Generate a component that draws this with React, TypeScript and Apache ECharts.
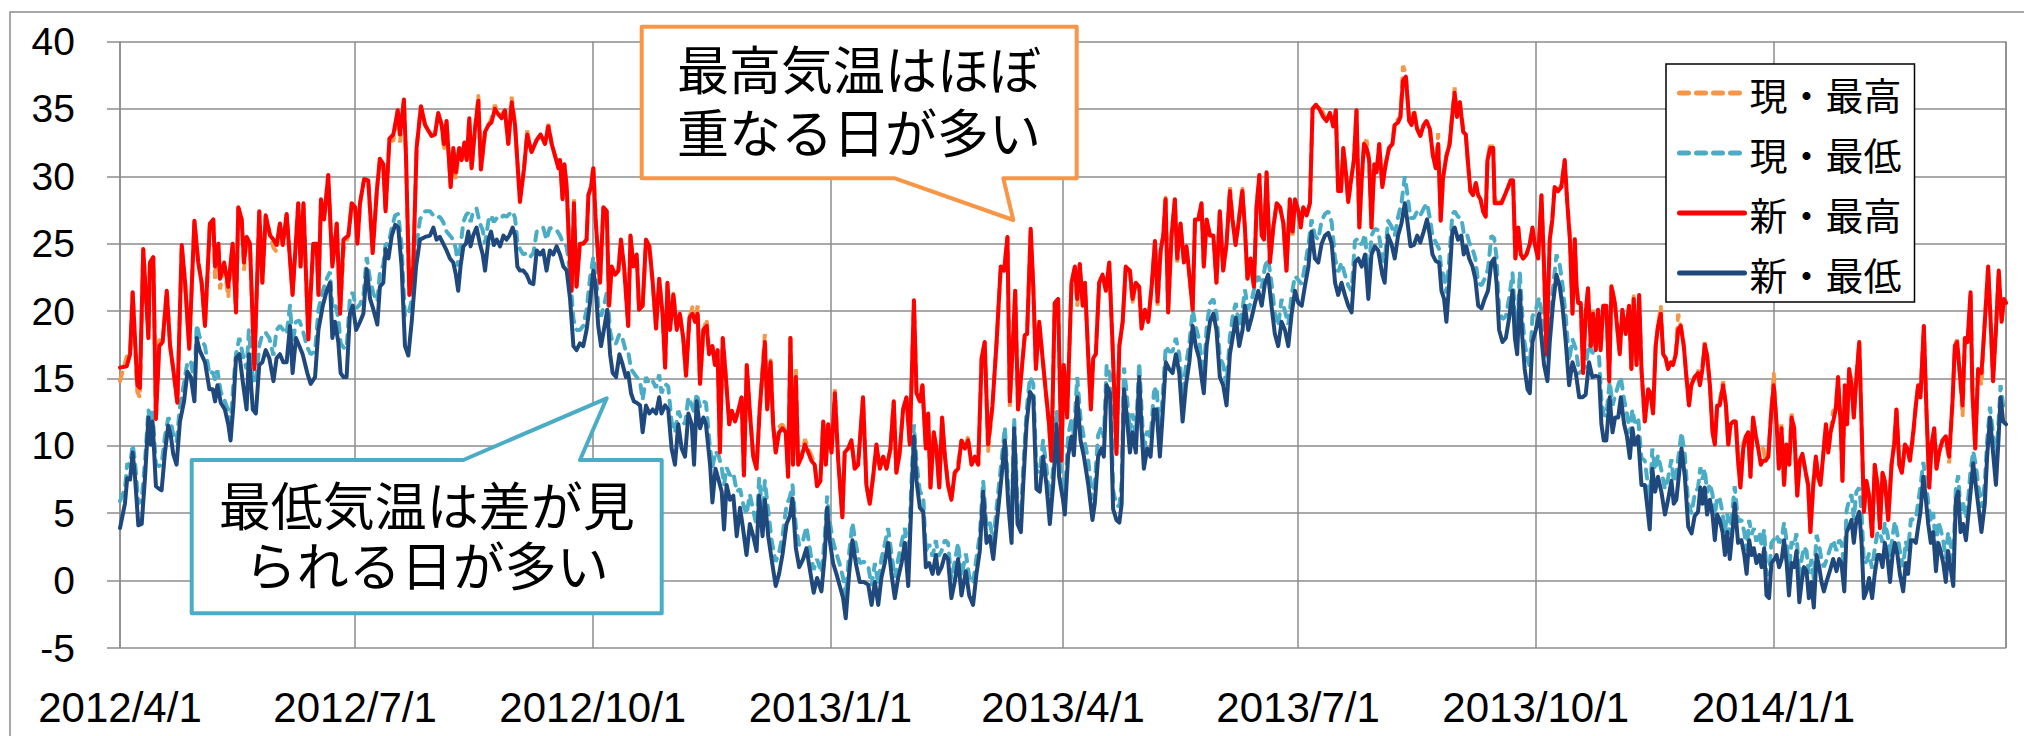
import React, { useEffect, useRef } from "react";
import * as echarts from "echarts";

// ---- data ----
const seriesNames = ["現・最高", "現・最低", "新・最高", "新・最低"];
const axisStart = [2012, 4, 1];
const axisEnd = [2014, 4, 1];
const yMin = -5;
const yMax = 40;
const yStep = 5;

// day offsets from 2012/4/1 for the max-temperature series
const hiDays = [
  0,2.6,3.9,4.9,6.7,7.7,9,11,11.6,12.9,13.9,15.2,16.5,18.1,19.4,20.6,22.2,23.9,25.2,26.8,
  28.8,30.3,31.6,32.9,34.8,36.1,36.8,38.1,38.7,40.3,41.9,43.6,44.9,45.8,47.1,48,49,50.3,52,53.9,
  55.1,56.4,58.1,59.4,60.6,61.9,63,64.5,66.8,69,69.9,71,72.9,74.8,76.1,76.8,77.8,79,80.6,82.2,
  83.9,85.2,86.5,88.4,89.7,91,91.9,92.9,94.5,96.1,97.8,99.4,100.6,101.9,102.8,104.3,105.8,107.5,108.4,109.9,
  110.7,112,113.5,114.8,116.5,118.1,
  119,120.6,121.9,123.2,124.5,125.4,126.4,128,129,130,131.3,132.2,133.3,134.2,135.2,136.1,137.4,138.7,139.7,141.3,
  142.6,143.8,145.1,146.4,147.7,149,150.3,151.6,152.9,154.8,156.4,157.6,159.3,161.3,162.8,164.5,165.8,167.1,168.4,169.7,
  170.3,171.3,172,172.9,173.8,174.8,175.7,176.7,178,179.3,180.6,181.3,182.3,183.2,184.1,184.9,185.8,187.1,188.4,189.3,
  190.3,191.6,192.9,193.9,195.1,196.7,197.6,198.7,200,200.9,202.3,203.6,204.9,206.2,207.5,208.7,210,211,211.9,212.9,
  214.2,215.5,216.7,218,219.1,220.4,221.6,222.6,223.6,224.5,225.8,227.1,228,229.3,230.3,231.3,232.2,233.3,234.5,235.8,
  236.8,238.1,239.4,240.6,241.5,242.6,243.8,
  245.1,246.4,247.6,249.6,250.5,251.8,252.8,253.8,255.1,256.4,257.7,258.6,259.5,260.5,261.6,262.5,263.8,265.1,266.4,267.6,
  268.9,269.8,271.1,272.2,273.2,274.1,275.4,276.7,278,279.6,280.5,281.8,283.1,284.4,285.7,287.6,288.9,290.2,291.5,292.8,
  294.1,295.4,296.7,298.2,299.5,300.5,301.8,303.1,304.4,305.7,307.3,308.3,309.6,310.6,311.9,312.8,313.7,315,316,317.1,
  318.2,319.3,320.5,321.8,323.1,324.4,325.7,327,328.3,329.6,330.9,332.2,333.5,334.7,336,337.7,339.3,340.9,342.2,343.5,
  344.4,345.4,346.5,347.6,348.9,350.2,351.1,352.5,353.5,354.5,355.8,357.1,358.4,359.6,360.5,361.8,363.1,364.4,
  365.3,366.6,368.3,369.6,370.5,371.5,372.6,373.5,374.8,375.8,376.7,377.7,379,380.3,381.6,382.9,384.2,385.7,386.8,388.1,
  389.3,390.9,391.9,393.2,394.5,395.4,396.7,398,399.3,400.6,401.6,402.8,403.8,404.7,405.7,407,408.3,409.2,410.5,411.8,
  412.8,413.9,415.2,416.1,417.4,418.6,419.5,420.6,421.9,423.2,424.4,425.7,427,428.3,429.6,430.6,431.8,433.1,434.4,435.4,
  436.4,437.6,438.9,439.9,441,441.9,442.8,443.8,445.1,446.4,447.7,449,450.3,451.5,452.8,453.9,454.8,456.1,457,458,
  459.3,460.6,461.6,462.9,464.2,465.7,467,468.3,469.6,470.6,471.5,472.6,473.5,474.5,475.4,476.7,477.6,478.6,479.7,480.6,
  481.5,482.5,483.5,484.4,485.5,486.4,487.4,
  488.6,489.9,491.2,492.5,493.4,494.7,495.6,496.6,497.7,499,499.9,500.9,502.1,503.3,504.6,505.7,507,508.2,509.3,510.2,
  511.2,512.1,513.4,514.7,515.7,516.6,517.5,518.6,519.9,520.9,521.8,522.7,523.7,524.8,525.7,526.6,527.6,528.6,529.3,530.4,
  531.5,532.1,533.4,534.7,536,537.3,538.3,539.2,540.1,541.2,542.2,543.1,544.4,545.7,546.7,547.6,548.9,550.2,551.2,552.1,
  553.4,554.4,555.3,556.6,557.9,559.2,560.2,561.2,562.2,563.1,563.7,564.4,565.4,566.3,567.3,568.2,569.3,570.2,571.2,572.1,
  573.1,574.1,575.3,576.4,577.3,578.6,579.6,580.5,581.5,582.8,584.1,585,585.9,587,588,588.9,590.2,591.5,592.4,593.4,
  594.4,595.3,596.4,597.3,598.3,599.2,600.3,601.1,602.2,603.1,604.1,605.3,606.3,607.3,608.2,609.5,610.8,
  611.5,612.5,613.4,614.3,615.4,616.4,617.3,618.2,619.2,620.5,621.6,622.5,623.4,624.4,625.4,626.3,627.2,628.3,629.3,630.2,
  631.1,632.1,633.2,634.1,635.1,636,637,638,639.2,640.1,641.2,642.1,643.1,644.1,645,646.1,647,648,649.2,650.2,
  651.2,652.5,653.4,654.3,655.4,656.4,657.3,658.2,659.2,660.3,661.2,662.1,663.1,664.1,665,666,666.7,667.6,668.5,669.3,
  670.2,671.1,672.1,673.2,674.1,675,676,677,678.2,679.2,680.3,681.2,682.2,683.1,684.4,685.7,686.7,687.6,688.7,689.7,
  690.9,691.8,692.8,694.1,695.1,696,696.9,698.2,699.2,700.3,701.2,702.2,703.1,704.1,705.4,706.7,708,709.3,710.2,711.1,
  712.1,713.2,714.1,715.1,716.3,717,718.1,719.2,720.5,721.8,723.1,724,725,726.1,727.2,728.3,729.2,730
];

// 新・最高
const newMax = [
  15.8,15.9,16.8,21.4,14.5,14.3,24.6,18,23.6,24,12,17.4,17.7,21.5,17.4,15.7,13.2,24.9,22.1,17.2,
  26.7,23.6,22.1,18.9,26.5,26.8,23.3,25,22.4,23.6,21.8,25,19.9,27.7,26.8,23.6,25.5,25,15.7,27.4,
  22.1,27.1,25.6,25.3,24.9,26.5,24.9,27.2,21.2,28,23.3,28,17.9,25,25,21.2,28.3,26.8,30.1,23.3,
  26.5,19.8,25.3,25.6,28,27.7,25,28,29.8,29.7,24.3,28.9,31.3,30.9,27.4,32.8,33.1,34.9,33.1,35.7,
  31.5,21.2,23.3,32.1,35.2,33.8,
  33.5,33,33.1,34.7,33.8,32.4,34.1,29.2,32.1,30.3,32.1,31.2,32.5,31.2,34.3,30.6,33.5,35.6,30.5,33.3,
  33.8,34,35,34.6,34.3,34.9,32.4,35.5,33.8,28.1,30.6,33.1,31.8,32.7,33.1,32.4,33.7,32.4,31.5,30.6,
  31.2,28.3,30.9,29.2,25,21.5,28,21.8,25,25,25.3,28.6,29.2,30.6,26.8,24.5,22.1,27.7,27.4,20.4,
  23.3,22.7,23,25.3,23.3,18.9,25.6,23.3,24.2,20.1,20.4,25.3,24.8,22.1,18.7,22.4,19.8,15.8,22.1,18.6,
  21.2,18.6,19.8,18,15.2,19.5,19.8,19.2,19.8,14.6,18.6,18.9,16.8,17.4,16,17.1,9.5,18,15.1,11.6,
  12.6,11.8,12.7,13.6,7.8,16,12.5,
  9.2,8.3,12.7,17.7,12.7,16.2,11.6,9.5,11,11.3,11,7.7,18,8.6,15.1,8.6,9.2,10.1,9.5,8.9,
  8.6,7,7.4,11.8,8.6,11.6,9.5,13.9,8.9,4.7,9.5,9.8,10.4,8.3,8.6,13.6,7.1,5.7,7.7,10.1,
  8.3,9.2,8.3,9.8,13.3,8,9.5,12.7,13.6,10.1,20.8,13.9,13.3,14.5,9.8,12.4,6.9,11,9.8,6.9,
  12.1,9.2,7.1,6,8,8.3,10.4,9.8,10.4,8.6,9.2,8.6,16.5,17.7,10.1,13,17.7,23.3,23,25.5,
  13.3,16.8,21.5,12.7,15.4,18.2,18.3,26.1,21.8,15.7,19.2,16.5,13.9,11.6,8.9,20.6,20.9,8.9,
  16,12.1,22.1,23.3,20.9,23.5,20.4,22.1,16.5,12.7,16.5,16.8,22.1,22.7,21.5,23.6,17.4,9.4,17.4,19.2,
  23.3,23,20.9,22.1,21.8,18.7,20.1,19.2,21.8,25.2,20.7,24.5,25.6,28.3,19.9,25.6,28.3,23.9,26.5,23.6,
  24.8,22.7,20.1,26.8,26.8,28,23.3,26.8,25.6,25.6,22.1,27.4,23,25,28.9,26.8,24.9,26.8,28.9,26.2,
  22.4,23.9,21.8,27.7,30.1,25.6,25.3,30.3,23.6,26.2,28,27.7,26.5,23,28.3,25.9,28.3,27.4,26.2,27.7,
  27.1,28,35,35.3,35,34.4,34.1,34.7,33.7,34.9,28.9,28.9,32.1,30.3,28.1,30,31.2,34.9,26.2,29.7,
  32.4,32.1,31.2,26.2,30.9,30.3,32.4,
  29.2,30.9,32.1,32.4,33.8,34,34.4,37.1,37.4,34.1,33.8,34.7,33.5,33,33.8,34.1,33.5,31.5,30.6,32.4,
  26.7,29.9,31.5,32.4,34.6,36.2,34.4,35.5,33.3,33.1,30.9,28.9,28.6,29.5,28.6,28.3,27.4,27,31.2,32.1,
  32.1,28,28,28,28.6,29.2,29.7,29.7,23.9,26.2,24.2,23.9,24.2,25,26.2,25,23.9,28.6,23.3,16.8,
  25.3,26.8,29.2,28.9,29.2,31.2,28,25.3,19.8,25.3,22.1,20.6,20.6,15.4,19.8,21.7,17.4,19.8,17.1,20.1,
  17.1,20.4,20.4,14.8,21.8,20.6,18.6,16.8,20.1,18.3,20.4,15.7,20.9,16,21.2,15.7,11.8,14.2,13.9,12.4,
  17.4,18.9,19.8,16.8,16.5,15.7,16.2,16,16.8,18.6,18.9,17.4,15.1,13,14.5,15.1,15.4,
  14.5,15.7,17.5,16.7,14.5,11,10.1,13,13,14.5,13,10.1,11.6,11.8,11.8,8.9,6.9,9.8,10.7,11,
  7.7,12.1,10.7,9.8,8.6,8.9,8.9,9.2,12.7,14.5,11.6,8.3,11.3,7.1,10.1,8.6,12.1,11.3,6.3,8.9,
  9.4,8,7.1,3.6,7.1,9.2,7.7,7.1,9.2,11.6,9.5,11,11.8,12.7,15.1,11.6,7.4,14.5,11.6,15.7,
  14.5,12.1,15.1,17.7,11.6,5.1,7.4,6.3,3.3,8.6,7.1,3.9,8,7.4,4.5,8.6,10.1,12.7,8.6,8,
  10.1,9.8,8.9,11,13,14.5,13.6,18.9,12.7,6.9,10.1,11.3,8.3,9.5,10.4,10.7,9.2,13.3,17.4,17.7,
  15.4,13,18,17.7,21.4,13.9,9.8,15.7,15.4,19.2,23.3,19.5,14.8,18.6,23,19.2,20.9,20.6
];

// 現・最高
const curMax = [
  14.8,16.6,16.8,21.4,14,13.6,24.6,18,23.6,24,12,17.9,17.7,21.5,17.4,15.7,13.2,24.9,22.1,17.2,
  26.7,23.6,22.1,18.9,26.5,26.8,22.4,25,21.6,23.6,21,25,19.9,27.7,26.8,23,25.5,25,15.7,27.4,
  22.1,27.1,25.6,24.7,24.4,26.5,24.9,27.2,21.2,28,23.3,28,17.9,25,25,21.2,28.3,26.8,30.1,23.3,
  26.5,19.8,24.5,25.6,28,27.7,25,28,29.8,29.7,24.3,28.9,31.3,30.9,27.4,32.8,32.6,34.9,32.5,35.7,
  31.5,21.2,23.3,32.1,35.2,33.8,
  33.5,33,33.1,34.7,33.8,31.9,34.1,29.2,32.1,29.8,32.1,31.2,32.5,31.2,34.3,30.6,33.5,36,30.5,33.3,
  33.8,34.3,35.3,34.6,34.6,34.9,32.4,35.9,33.8,28.4,30.6,33.4,31.8,32.7,33.1,32.4,33.9,32.4,31.5,30.6,
  31.5,28.3,30.9,29.2,25,21.5,28.3,21.8,25,25,25.3,28.6,29.2,30.8,26.8,24.5,22.1,27.7,27.4,20.4,
  23.3,22.7,23,25.3,23.3,18.9,25.6,23.5,24.2,20.1,20.4,25.3,24.8,22.1,18.7,22.4,19.8,15.8,22.1,18.6,
  21.4,18.6,19.8,18,15.2,19.5,20.3,19.2,20.4,14.6,18.6,19.4,16.8,17.4,16,17.1,9.5,18,15.1,11.6,
  12.6,11.8,12.7,13.6,7.8,16,12.5,
  9.2,8.3,12.7,18.3,12.7,16.5,11.6,9.5,11.4,11.6,11,7.7,18.3,8.6,15.7,8.6,9.2,10.5,9.8,9.3,
  8.6,7,7.4,11.8,8.6,11.6,9.5,14.2,8.9,4.7,9.5,9.8,10.4,8.3,8.6,13.6,7.1,5.7,7.7,10.1,
  8.3,9.2,8.3,9.8,13.3,8,9.5,12.7,13.6,10.1,20.8,13.9,13.3,14.5,9.8,12.4,6.9,11,9.8,6.9,
  12.1,9.2,7.1,6,8,8.7,10.4,9.8,10.7,8.6,9.2,8.6,16.5,17.7,9.6,13,17.7,23.3,23,25.5,
  12.9,16.8,21.5,12.7,15.4,18.2,18.3,26.1,21.8,15.7,19.2,16.5,13.9,11.6,8.9,20.6,20.9,8.9,
  16,12.1,22.1,23.3,20.4,23.5,20.4,22.1,16.5,12.7,16.5,16.8,22.1,22.7,21.5,23.6,17.4,9.4,17.4,19.2,
  23.3,23,20.6,22.1,21.5,18.7,20.1,19.2,21.8,25.2,20.4,24.5,25.6,28.6,19.9,25.6,28.3,23.6,26.5,23.6,
  24.8,22.7,20.1,26.8,26.8,28,23.3,26.8,25.6,25.6,22.1,27.4,23,25,29.2,26.8,24.9,26.8,29.2,26.2,
  22.4,23.6,21.8,27.7,30.1,25.6,25.3,30.3,23.6,26.2,28,27.7,26.5,23,28.3,25.6,28.3,27.4,26.2,27.7,
  27.1,28,35,35.3,35.3,34.7,34.1,34.7,33.7,34.9,28.9,28.9,32.1,30.3,28.1,30,31.2,34.9,26.2,29.7,
  32.4,32.7,31.2,26.2,30.9,30.3,32.4,
  29.2,30.9,32.1,32.4,34.1,34.2,34.4,38.2,37.6,34.1,33.8,35,33.5,33,33.8,34.1,33.5,31.5,30.6,33.2,
  26.7,29.9,31.5,32.7,34.6,36.6,34.4,35.5,33.6,33.1,30.9,28.9,28.6,29.5,28.6,28.3,27.4,27,31.2,32.5,
  32.1,28,28.4,28,28.6,29.2,29.7,29.7,23.9,26.2,24.2,23.9,24.2,25,26.2,25,23.9,28.6,23.3,16.8,
  25.3,26.8,29.3,28.9,29.4,31.2,28,25.6,19.8,25.6,22.1,20.6,20.6,15.4,19.8,21.7,17.4,20.1,17.1,20.1,
  17.1,20.4,20.4,14.8,22,20.6,18.6,16.8,20.1,18.3,20.4,15.7,21.1,16,21.2,15.7,11.8,14.2,13.9,12.4,
  17.4,18.9,20.4,16.8,16.5,15.7,16.2,16,17,19.8,18.9,17.4,15.1,13,14.5,15.1,15.6,
  14.5,15.9,17.7,16.7,14.5,11,10.1,13,13.3,14.8,13,10.1,11.6,11.8,11.8,8.9,6.9,10.2,10.7,11,
  7.7,12.1,10.7,9.8,9.8,9.8,8.9,9.2,12.7,15.4,11.6,8.3,11.6,7.1,10.1,8.6,12.4,11.3,6.3,8.9,
  9.4,8,7.1,3.6,7.1,9.2,7.7,7.1,9.2,11.6,9.5,11,12.6,12.7,15.1,11.6,7.4,14.5,11.6,15.7,
  14.8,12.1,15.1,17.7,11.6,5.1,7.4,6.3,3.3,8.6,7.1,3.9,8,7.4,4.5,8.6,10.1,12.9,8.6,8,
  10.1,9.8,8.9,10.6,13,14.5,14,18.9,12.7,6.9,10.1,11.3,8.3,9.5,10.4,10.7,8.7,13.3,17.4,17.9,
  15.4,12.2,18,17.7,21.4,13.9,9.8,15.7,14.5,19.2,23.3,19.5,14.8,18.6,23,19.2,20.9,20.6
];

// day offsets from 2012/4/1 for the min-temperature series
const loDays = [
  0,1.9,2.8,3.9,4.9,5.8,7.1,8.4,9.7,11,11.9,12.6,13.9,15.2,16.1,17.4,18.7,19.7,20.6,21.9,
  23.2,24.8,26.1,27.4,28.8,29.7,30.8,32.9,34.6,35.9,36.8,37.7,39,40.6,41.9,42.8,43.9,44.9,46.2,47.7,
  49,49.9,51.4,52.6,53.9,55.1,56.4,57.8,59.4,60.6,61.9,63.2,64.5,65.8,66.8,68.1,69.4,70.7,72.5,73.8,
  75.5,76.8,78.5,80,81.3,82.2,83.2,84.5,85.4,86.5,87.7,89,90.1,91.4,92.9,94.2,95.5,96.8,98.1,99.6,
  100.6,101.9,102.8,103.9,105.2,106.5,107.7,109,110.3,111.6,112.9,114.6,116.1,118.1,
  120,121.3,122.5,123.8,125.1,126.4,127.7,129,130,130.9,131.8,132.9,133.9,134.8,135.7,136.7,138,139.3,140.4,141.3,
  142.6,143.6,144.7,145.8,147.1,148.4,149.6,150.7,152,152.9,153.8,154.8,156.1,157.4,158.7,160,161.3,162.6,163.8,165.1,
  166.4,167.7,169,170.3,171.6,172.9,174.2,175.5,176.7,178,179.3,180.6,181.9,183.2,184.1,185.1,186.2,187.3,188.6,189.7,
  190.7,192,193.3,194.6,195.8,196.7,197.8,198.9,200,201.3,202.3,203.6,204.9,206.2,207.5,208.7,209.6,211,212.2,213.5,
  214.8,216.1,217.4,218.7,220,221.3,222.2,223.2,224.5,225.8,226.8,228.4,229.3,230.5,231.8,232.9,233.8,234.8,236.1,237.4,
  238.7,240,241.2,242.5,
  243.8,245.1,246.4,247.4,248.7,249.6,250.9,252.2,253.8,255.1,256.4,258,259.3,260.3,261.6,262.9,264.4,265.7,267.3,268.5,
  269.8,271.5,272.8,273.7,274.7,276,277.3,278.6,279.9,280.9,282.2,283.5,284.8,286.3,287.9,289.6,290.9,292.2,293.5,294.7,
  296,297.3,298.6,299.9,301.2,302.5,303.8,305.1,306.3,307.3,308.3,309.6,310.9,311.9,313.2,314.5,315.8,316.7,318,319.3,
  320.5,321.8,323.1,324.4,325.7,327.4,328.7,330.2,331.5,332.8,334.1,335.4,336.7,338,339.5,341.2,342.5,343.8,345.1,346.1,
  347.4,348.7,349.6,350.9,352.2,353.5,354.7,356,357.3,358.6,359.9,361.2,362.5,363.5,365,365.7,
  367,368.3,369.2,370.5,371.8,373.1,374.8,376.4,377.3,378.6,379.9,380.8,381.9,383.2,384.4,385.7,386.8,387.7,388.6,389.6,
  390.9,391.9,393.2,394.5,395.4,396.3,397.6,398.9,400.2,401.2,402.5,403.5,404.8,406.1,407.4,408.7,410,411.3,412.6,413.9,
  415.2,416.4,417.7,418.6,419.5,420.6,421.9,423.2,424.4,425.7,427,428.3,429.6,430.9,431.9,433.2,434.5,435.4,436.7,438,
  439.3,440.6,441.9,443.2,444.4,445.7,447,448.3,449.6,450.9,452.2,453.5,454.8,456.1,457.4,458.6,460,461.2,462.5,463.8,
  465.1,466.4,467.7,469,470.3,471.5,472.8,474.1,475.4,476.7,478,479.3,480.6,481.9,483.2,484.4,485.7,487,
  488.6,489.5,490.8,492.1,493.4,494.7,496,497.3,498.2,499.5,500.8,502.1,503.3,504.6,505.9,507,508,509.3,510.6,511.5,
  512.5,513.4,514.4,515.7,516.6,517.9,519.2,520.1,521.1,522.2,523.5,524.6,525.7,527,528.2,529.5,530.8,531.9,532.8,533.8,
  535.1,536.4,537.7,539,539.9,540.8,541.8,542.8,543.7,544.8,545.7,546.7,548,549.3,550.2,551.2,552.5,553.4,554.7,556,
  557.3,558.3,559.6,560.9,562.2,563.5,564.8,566.1,567.3,568.6,569.9,571.2,572.5,573.4,574.3,575.3,576.6,577.7,578.7,579.9,
  580.9,582.2,583.3,584.4,585.4,586.3,587.6,588.9,590.2,591.2,592.1,593.1,594.2,595.3,596.6,598,599.2,600.5,601.4,602.4,
  603.5,604.4,605.7,607,608.3,609.5,610.8,
  611.7,612.5,613.4,614.3,615.4,616.4,617.3,618.2,619.2,620.3,621.2,622.1,623.1,624.1,625,626.3,627.6,628.7,629.6,630.6,
  631.5,632.4,633.4,634.5,635.4,636.4,637.3,638.3,639.2,640.4,641.2,642.2,643.2,644.1,645.1,646,647,648,648.9,650,
  650.9,651.8,652.8,653.7,654.7,655.6,656.7,657.7,658.6,659.5,660.5,661.8,663.1,664.4,665.4,666.3,667.4,668.3,669.3,670.2,
  671.1,672.1,673.2,674.1,675,676,677,678.2,679.2,680.3,681.2,682.2,683.1,684.2,685.1,686.1,687,688,688.9,690.2,
  691.2,692.1,693.2,694.1,695.1,696,696.9,698,699,699.9,700.9,701.8,702.9,703.8,704.7,705.7,706.7,707.6,708.5,709.6,
  710.6,711.5,712.4,713.4,714.5,715.4,716.3,717.3,718.3,719.2,720.5,721.8,722.7,723.8,724.8,726.1,727,727.9,728.9,730
];

// 新・最低
const newMin = [
  3.9,5.7,7.6,7.5,9.5,7.7,4.1,4.2,7.7,12.1,10.1,11.8,7,6.8,6.7,9.5,11.5,10.7,9.4,8.6,
  11.8,13.3,15.5,15.1,13.3,18,17.1,16.2,14.2,14.2,13.3,14.5,13.2,12.7,11.6,10.4,13,16.5,16.8,14.5,
  12.7,16.8,12.7,12.4,16,16.2,17.1,16.5,14.8,16.5,16.8,16.2,16.2,18.9,15.4,18,17.4,16.8,15.4,14.6,
  15.1,18.6,20.4,21.5,22.1,18,19.2,17.7,15.4,15.1,15.1,19.8,20.4,18.6,19.2,19.8,23.1,20.9,20.1,19,
  21.8,22.1,24.6,23.9,25.6,26.4,26.2,23.3,17.4,16.7,19.2,23.3,25.3,25.5,
  25.6,26.2,25.3,25.5,25,24.5,23.9,23.6,22.7,21.5,23.3,24.8,25,25.9,24.8,25.6,26.2,25,24.2,23,
  25.3,25.9,24.9,25.3,24.8,25.6,25.3,25.6,26.2,25.6,23.3,23,23,22.7,22.1,22,24.5,24.2,24.5,23,
  24.5,24.2,24.8,24.2,23.3,23,20.9,17.4,17.1,17.6,17.4,18.6,20.6,23,21.8,18.9,17.4,18.6,20.1,16.8,
  15.4,15.1,16.8,16,15.1,15.4,13.9,13.3,13.2,13,11,13,12.4,12.7,12.4,13.6,12.4,13,12.7,9.8,
  8.6,11.6,9.8,9.2,12.4,11.6,8.6,13.3,11.3,12.1,11.6,8.6,5.8,8.3,7.4,6.6,3.8,7.1,6,6.3,
  3.3,5.4,3.8,1.9,
  4.2,3.3,2.2,6.3,3.3,6,3.3,1.6,-0.4,0.5,1.9,4.2,4.8,6.1,2.4,1,1.6,2.4,0.5,-0.9,
  0.2,-0.8,1.9,5.4,3,1.3,0.5,-0.4,-1.3,-2.8,0.5,3,1.3,-0.1,-0.1,-0.3,-1.8,-0.1,-1.8,0.2,
  1.3,2.8,0.5,-1.3,0.2,1.3,2.8,-0.4,5.7,10.7,7.4,5.4,5.1,1,1.3,0.5,1.9,0.5,1,1.9,
  1.6,-1.3,-0.1,1.6,-1.1,0.7,-1.1,-1.8,0.5,2.2,6.6,2.8,3.3,1.6,4.5,7.7,10.4,5.7,2.8,11.3,
  4.2,3.6,7.1,11.6,14,13.6,6.8,6.6,9.2,7.1,4.2,7.1,11.6,7.7,6,4.9,
  9.3,10.7,9.3,13.6,10.4,9.2,7.1,4.5,5.7,9.2,9.8,9.2,14.5,13.9,5.3,4.5,4.3,5.7,14.2,12.4,
  9.5,11,9.5,15.1,11.3,8.3,9.8,9.2,12.7,12.7,9.2,12.1,16.2,15.7,15.4,16.8,15.4,11.8,14.5,16.2,
  18.9,17.4,16.5,15.1,13.9,17.4,19.2,19.8,18.6,15.1,14.5,13,16.8,18.3,19.5,17.4,18.6,20.4,18.6,19.5,
  20.6,21.5,20.4,22.1,22.7,20.4,18.3,17.4,19.2,18.6,17.4,19.8,21.5,20.6,20.4,21.8,23.3,25.9,23.9,23.6,
  25,25.6,25.8,25,22.1,21.2,22.1,21.2,20.4,19.9,23.6,23.9,23.3,24.2,20.9,24.2,24.8,24.5,
  22.7,22.1,25.6,25,23.9,25.6,26.5,28,26.8,24.8,24.9,25.6,25.1,25.9,26.8,25.6,24.2,23.7,23.6,21.5,
  20.9,19.2,21.8,25.9,26.2,25.3,25.6,24.2,24.8,23.9,23.3,22.4,20.4,20.2,20.9,21.5,23.6,23.9,22.1,18.6,
  17.7,18,19.5,21.5,18,16.8,21.5,18,15.7,14.2,13.9,17.7,18.6,19.8,18,16,14.8,17.7,20.6,22.7,
  21.8,20.4,17.7,14.5,16.2,15.4,13.6,13.6,13.8,16.2,15.1,15.2,15.1,11.6,10.4,10.4,13.6,11,12.1,12.1,
  13.6,11.6,10.7,9.1,11.3,10.1,10.7,7.1,7.1,5.4,3.8,8.3,6.6,7.7,6.6,4.9,6,7.4,5.7,6,
  8,9.8,7.7,4,3.5,4.8,5.1,
  6.9,5.7,6.9,4.9,6,4.9,3,4.9,4.5,3.6,1.9,3.6,1.6,3.6,5.7,2.8,3,1.9,0.5,3,
  1.9,2.4,1.3,1.9,1,2.4,-1.1,-1.3,1.3,1.6,1.9,1,1.6,3,1.3,-1.1,1.3,1,2.2,-1.6,
  -0.1,1,0.7,-1.3,-0.1,-2,1.9,1,-0.1,-0.8,-0.1,0.7,1.6,0.7,1.6,1.3,-0.8,3.6,4,4.5,
  2.8,4.5,5.1,2.8,-1.3,-0.8,0.2,-1.3,0.5,1.9,1.9,1,2.8,1.6,-0.1,1.9,2.8,1.9,0.5,-0.8,
  1.3,0.5,3,3,2.8,4,5.1,7.7,6,4.2,2.8,3.6,0.7,2.8,2.2,1.3,-0.1,2.2,1,-0.4,
  6,6.6,3.6,4.2,3,4.8,6.6,8.7,7.1,5.7,3.6,5.7,9.2,12.1,9.9,7.1,10.1,13.6,11.8,11.6
];

// 現・最低
const curMin = [
  5.9,6.8,8.7,8.5,10.1,8.9,5.7,6,8.9,12.7,11.3,12.6,8.6,8.5,8.6,10.7,12.1,11.8,10.8,10.3,
  12.9,14.7,16.2,16.3,14.6,19,18.1,17.4,15.3,15.5,14.9,15.6,14,13.3,12.6,11.7,14.6,16.8,18,16.6,
  15.7,18.6,14.9,14.6,17.4,18.3,18.4,18,16.7,18.6,18.9,18.6,18.3,20.4,17.6,19.2,19.3,18.6,17.3,16.8,
  17,20.1,21.5,22.4,22.9,20.3,20.6,19.5,17.6,17.3,17.2,21,21.4,20.2,20.5,21.1,24,22.3,21.3,20.7,
  22.9,23.4,25,24.9,26.2,27.1,27.2,24.8,19.6,19.8,20.8,24.6,26.8,27.4,
  27.4,27.1,26.9,27,26.6,25.9,25.6,25.3,24.6,23.3,24.8,26.6,27.1,27.3,26.6,27.4,27.6,26.5,26,25,
  26.7,27.1,26.6,26.9,26.8,27.1,27,27.2,27.4,26.9,25.2,24.6,24.2,24.3,24,24.3,25.9,26,26.2,25.3,
  26.2,26,26,25.6,25,24.8,22.7,19.4,18.6,18.6,18.9,20.1,22.4,24,23.2,20.4,19.6,20.4,21.5,18.5,
  17.6,17.6,18.3,17.9,17,17,15.7,15.4,15.1,14.8,13.4,15.1,14.6,14.8,14.3,15.3,13.9,14.6,14.4,11.8,
  11,12.6,11.9,11.6,13.6,13,12.5,13.9,12.9,13.3,13.2,9.8,8.4,9.6,9.2,8.4,7.1,8.4,7.8,8,
  6.6,6.8,5.7,4.9,
  6.4,5.2,4.1,7.6,5,7.4,5.2,3,1.4,2.1,3.3,5.6,6.2,7.1,4,2.6,3,4,2,0.8,
  1.6,0.6,3.2,6.3,4.4,2.9,2,1.2,0.2,-1.2,2,4.3,2.7,1.3,1.4,1.1,-0.4,1.3,-0.3,1.6,
  2.7,3.9,2,0.2,1.6,2.8,3.9,1.2,7.1,11.6,8.8,6.6,6.3,2.2,2.7,1.8,3,1.8,2.2,3,
  2.8,0.1,1.4,2.8,0.3,2,0.3,-0.2,1.7,3.4,7.4,4,4.3,2.9,5.8,8.9,11.4,6.9,4.2,12.1,
  5.5,4.8,8.3,12.6,15.1,14.6,8.2,8,10.4,8.4,5.6,8.4,12.6,9,7.3,6.2,
  10.8,12,10.8,15.1,12,10.6,8.9,6,7.2,10.8,11.4,10.6,16,15.3,6.7,5.6,5.5,7.3,15.8,14,
  11,12.4,10.8,16.2,12.8,9.6,11.1,10.6,14,14.4,10.8,13.6,17.4,17,17,18,16.8,13.6,16,17.6,
  20.1,18.8,17.9,16.4,15.3,18.8,20.6,20.9,19.8,16.6,16,14.5,18.1,19.9,20.6,18.8,20.1,21.6,20.1,20.8,
  21.9,22.6,21.7,23.3,23.9,22.1,19.8,18.9,20.9,20,19,21.2,22.6,22.3,22,23.3,24.9,26.8,25.6,25.3,
  26.7,27.2,27.4,26.6,23.9,22.9,23.6,22.7,21.9,21.5,25.2,25.4,24.9,25.7,22.4,25.6,26.1,26,
  24,23.6,26.7,26.3,25.6,27,28,30,28.8,26.9,26.9,27.4,27.1,27.6,28,26.9,25.6,25.1,24.6,23,
  22.6,21.3,23.6,27.2,27.4,27,26.9,25.8,25.9,25.1,24.6,23.9,22.1,21.9,22.4,23.1,25.6,25.4,24,20.1,
  19.4,19.6,21,22.8,19.8,18.5,22.9,19.6,17.6,16.4,15.9,19.6,20.1,21,20,17.9,16.5,19.6,21.8,24.2,
  23.4,22,19.6,16.3,17.9,17.2,15.4,15.6,15.9,17.6,16.9,16.9,16.6,13.4,12.3,12.2,14.8,13,13.7,14.5,
  15.1,13.4,12.4,10.9,12.7,11.7,12.1,9.1,8.9,7.4,5.6,9.8,8.2,9.3,8.2,6.8,7.6,9,7.3,8,
  9.6,11,9.3,5.7,5,6.4,6.9,
  8.4,7.5,8.3,6.5,7.2,6.4,4.8,6.2,6.1,5,3.6,5,3.4,5.2,7,4.4,4.5,3.6,2.2,4.5,
  3.4,3.9,2.9,3.6,2.6,3.8,0.6,0.4,2.8,3.1,3.4,2.8,3.1,4.3,2.9,0.6,2.9,2.6,3.5,0.2,
  1.6,2.5,2.2,0.5,1.6,0.1,3.4,2.6,1.5,1,1.5,2.3,3,2.2,3,2.8,1,5.2,6,6.4,
  4.6,6.6,6.9,5,1.3,1.4,2,0.9,2.4,3.6,3.6,2.8,4.3,3.4,1.8,3.3,4.4,3.4,2.2,1,
  2.9,2.2,4.6,4.5,4.6,5.8,7,8.8,7.4,5.8,4.4,5.1,2.5,4.4,3.8,3,1.6,3.6,2.7,1.5,
  6.9,7.8,5.2,5.8,4.6,6.2,8.2,9.6,8.6,7.2,5.4,7.2,10.4,12.9,11.2,8.6,11.4,14.5,13,12.8
];

const calloutHigh = "最高気温はほぼ\n重なる日が多い";
const calloutLow = "最低気温は差が見\nられる日が多い";
const pageNumber = "10";

const DAY = 86400000;
const t0 = new Date(axisStart[0], axisStart[1] - 1, axisStart[2]).getTime();
const t1 = new Date(axisEnd[0], axisEnd[1] - 1, axisEnd[2]).getTime();

function pts(days: number[], vals: number[]) {
  const n = Math.min(days.length, vals.length);
  const out: [number, number][] = [];
  for (let i = 0; i < n; i++) out.push([t0 + days[i] * DAY, vals[i]]);
  return out;
}

function fmtDate(v: number) {
  if (v >= t1 - DAY / 2) return ""; // the reference shows no label at the right edge
  const d = new Date(v);
  return `${d.getFullYear()}/${d.getMonth() + 1}/${d.getDate()}`;
}

const GRID = "#8c8c8c";
const NUM_FONT = "'Liberation Sans', Arial, sans-serif";
const JP_FONT = "'Noto Sans CJK JP', sans-serif";
const LW = 4;

export default function App() {
  const ref = useRef<HTMLDivElement>(null);
  useEffect(() => {
    if (!ref.current) return;
    const chart = echarts.init(ref.current, null, { renderer: "svg" });
    const lineBase = { type: "line", symbol: "none", showSymbol: false, silent: true, emphasis: { disabled: true } };
    chart.setOption({
      animation: false,
      backgroundColor: "#ffffff",
      grid: { left: 120, right: 18, top: 41.5, bottom: 88, containLabel: false },
      xAxis: {
        type: "time",
        min: t0,
        max: t1,
        splitNumber: 8,
        axisLine: { show: false },
        axisTick: { show: false },
        splitLine: { show: true, lineStyle: { color: GRID, width: 1.5 } },
        axisLabel: {
          formatter: fmtDate,
          fontSize: 42,
          fontFamily: NUM_FONT,
          color: "#000",
          margin: 38,
          hideOverlap: false,
        },
      },
      yAxis: {
        type: "value",
        min: yMin,
        max: yMax,
        interval: yStep,
        axisLine: { show: false },
        axisTick: { show: true, length: 13, lineStyle: { color: GRID, width: 1.5 } },
        splitLine: { show: true, lineStyle: { color: GRID, width: 1.5 } },
        axisLabel: { fontSize: 39, fontFamily: NUM_FONT, color: "#000", margin: 45, padding: [0, 0, 10, 0] },
      },
      legend: {
        data: seriesNames,
        orient: "vertical",
        left: 1666,
        top: 64,
        itemWidth: 65,
        itemHeight: 38,
        itemGap: 22,
        padding: [10, 13, 10, 11],
        backgroundColor: "#fff",
        borderColor: "#000",
        borderWidth: 1.5,
        itemStyle: { opacity: 0 },
        lineStyle: { width: 5, cap: "round" },
        textStyle: { fontSize: 38, fontFamily: JP_FONT, color: "#000" },
      },
      series: [
        { ...lineBase, name: seriesNames[0], data: pts(hiDays, curMax), itemStyle: { color: "#F79646" },
          lineStyle: { color: "#F79646", width: LW, type: [9, 8], cap: "round" } },
        { ...lineBase, name: seriesNames[1], data: pts(loDays, curMin), itemStyle: { color: "#4BACC6" },
          lineStyle: { color: "#4BACC6", width: LW, type: [9, 8], cap: "round" } },
        { ...lineBase, name: seriesNames[2], data: pts(hiDays, newMax), itemStyle: { color: "#FF0000" },
          lineStyle: { color: "#FF0000", width: LW, cap: "round", join: "round" } },
        { ...lineBase, name: seriesNames[3], data: pts(loDays, newMin), itemStyle: { color: "#1F497D" },
          lineStyle: { color: "#1F497D", width: LW, cap: "round", join: "round" } },
      ],
      graphic: [
        { type: "rect", silent: true, z: 0, shape: { x: 10, y: 12, width: 2100, height: 900 },
          style: { fill: "none", stroke: GRID, lineWidth: 1.5 } },
        { type: "polygon", silent: true, z: 100,
          shape: { points: [[641.7, 26.7], [1076.7, 26.7], [1076.7, 178.3], [1003.3, 178.3], [1013.3, 220], [895, 178.3], [641.7, 178.3]] },
          style: { fill: "#fff", stroke: "#F79646", lineWidth: 4, lineJoin: "round" } },
        { type: "text", silent: true, z: 101, x: 859, y: 98.5,
          style: { text: calloutHigh, fontSize: 52, fontFamily: JP_FONT, fill: "#000", align: "center", verticalAlign: "middle", lineHeight: 63 } },
        { type: "polygon", silent: true, z: 100,
          shape: { points: [[191.7, 460], [463.3, 460], [606.7, 398.3], [580, 460], [661.7, 460], [661.7, 613.3], [191.7, 613.3]] },
          style: { fill: "#fff", stroke: "#4BACC6", lineWidth: 4, lineJoin: "round" } },
        { type: "text", silent: true, z: 101, x: 426.7, y: 533.5,
          style: { text: calloutLow, fontSize: 52, fontFamily: JP_FONT, fill: "#000", align: "center", verticalAlign: "middle", lineHeight: 60 } },
        { type: "text", silent: true, z: 101, x: 1953, y: 731,
          style: { text: pageNumber, fontSize: 36, fontFamily: NUM_FONT, fill: "#9a9a9a", align: "center", verticalAlign: "top" } },
      ],
    });
    return () => chart.dispose();
  }, []);
  return <div ref={ref} style={{ position: "absolute", left: 0, top: 0, width: 2024, height: 736 }} />;
}
